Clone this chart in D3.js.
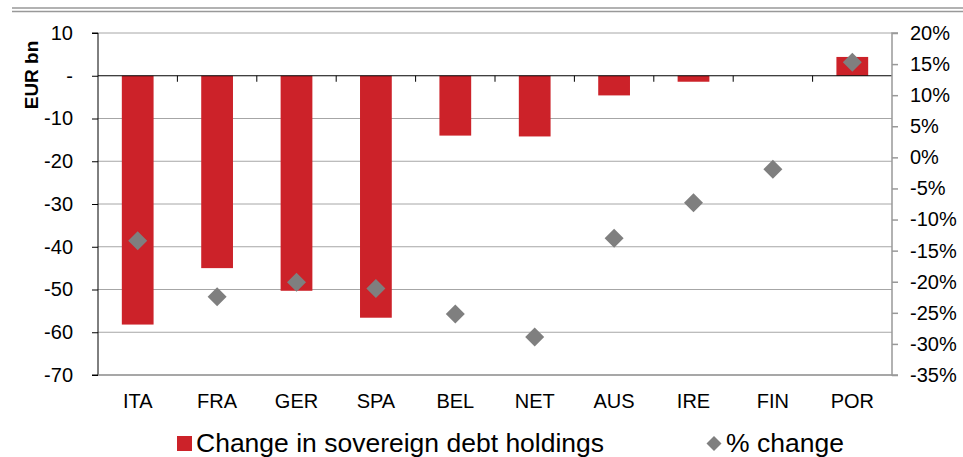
<!DOCTYPE html>
<html><head><meta charset="utf-8">
<script src="https://cdn.jsdelivr.net/npm/d3@7/dist/d3.min.js"></script>
<style>body{margin:0;background:#fff}svg{display:block;font-family:"Liberation Sans",Arial,sans-serif}</style>
</head><body><svg id="c" width="963" height="457"></svg>
<script>
const categories = ["ITA","FRA","GER","SPA","BEL","NET","AUS","IRE","FIN","POR"];
const debtChange = [-58.2, -45.0, -50.3, -56.6, -14.0, -14.2, -4.6, -1.4, 0, 4.4];
const pctChange = [-13.4, -22.4, -20.1, -21.1, -25.2, -28.9, -13.0, -7.3, -1.9, 15.3];
const leftTicks = [10, 0, -10, -20, -30, -40, -50, -60, -70];
const rightTicks = [20, 15, 10, 5, 0, -5, -10, -15, -20, -25, -30, -35];

const FONT = "Liberation Sans, Arial, sans-serif";
const svg = d3.select("#c");
const L = 98, R = 892, T = 33, B = 375;
const x = d3.scaleBand().domain(categories).range([L, R]).paddingInner(0.6).paddingOuter(0.3);
const xb = d3.scaleBand().domain(categories).range([L, R]);
const y = d3.scaleLinear().domain([-70, 10]).range([B, T]);
const y2 = d3.scaleLinear().domain([-35, 20]).range([B, T]);

// top double line
svg.append("line").attr("x1", 12).attr("x2", 963).attr("y1", 8).attr("y2", 8).attr("stroke", "#999").attr("stroke-width", 1.5);
svg.append("line").attr("x1", 12).attr("x2", 963).attr("y1", 11.5).attr("y2", 11.5).attr("stroke", "#999").attr("stroke-width", 1.5);

// gridlines
svg.append("g").selectAll("line").data(leftTicks.filter(d => d !== 0)).join("line")
  .attr("x1", L).attr("x2", R).attr("y1", d => y(d)).attr("y2", d => y(d))
  .attr("stroke", "#a6a6a6").attr("stroke-width", 1);

// bars
svg.append("g").selectAll("rect").data(categories).join("rect")
  .attr("x", d => x(d)).attr("width", x.bandwidth())
  .attr("y", (d, i) => y(Math.max(0, debtChange[i])))
  .attr("height", (d, i) => Math.abs(y(debtChange[i]) - y(0)))
  .attr("fill", "#cc2229");

// zero axis with ticks
const zero = svg.append("g");
zero.append("line").attr("x1", L).attr("x2", R).attr("y1", y(0)).attr("y2", y(0)).attr("stroke", "#000").attr("stroke-width", 1);
zero.selectAll("line.t").data(categories.slice(1)).join("line").attr("class", "t")
  .attr("x1", d => xb(d)).attr("x2", d => xb(d)).attr("y1", y(0)).attr("y2", y(0) + 6)
  .attr("stroke", "#000");

// left axis
const la = svg.append("g").attr("transform", `translate(${L},0)`)
  .call(d3.axisLeft(y).tickValues(leftTicks).tickSize(6).tickPadding(19).tickFormat(d => d === 0 ? "-" : d));
la.select(".domain").attr("stroke", "#000").attr("d", `M-6,${T}H0V${B}H-6`);
la.selectAll(".tick line").attr("stroke", "#000");
la.selectAll("text").attr("font-size", 20).attr("fill", "#000").attr("font-family", FONT);

// right axis
const ra = svg.append("g").attr("transform", `translate(${R},0)`)
  .call(d3.axisRight(y2).tickValues(rightTicks).tickSize(6).tickPadding(12).tickFormat(d => d + "%"));
ra.select(".domain").attr("stroke", "#999").attr("stroke-width", 1.5).attr("d", `M6,${T}H0V${B}H6`);
ra.selectAll(".tick line").attr("stroke", "#999").attr("stroke-width", 1.5);
ra.selectAll("text").attr("font-size", 20).attr("fill", "#000").attr("font-family", FONT);

// bottom line
svg.append("line").attr("x1", L).attr("x2", R).attr("y1", B).attr("y2", B).attr("stroke", "#999").attr("stroke-width", 1.5);

// category labels
svg.append("g").selectAll("text").data(categories).join("text")
  .attr("x", d => xb(d) + xb.bandwidth() / 2).attr("y", 408)
  .attr("text-anchor", "middle").attr("font-size", 20).attr("fill", "#000").text(d => d);

// diamonds
const s = 9.5;
svg.append("g").selectAll("path").data(categories).join("path")
  .attr("d", (d, i) => {
    const cx = xb(d) + xb.bandwidth() / 2, cy = y2(pctChange[i]);
    return `M${cx},${cy - s}L${cx + s},${cy}L${cx},${cy + s}L${cx - s},${cy}Z`;
  })
  .attr("fill", "#7f7f7f");

// y label
svg.append("text").attr("transform", `translate(38,75) rotate(-90)`).attr("text-anchor", "middle")
  .attr("font-size", 19).attr("font-weight", "bold").attr("fill", "#000").text("EUR bn");

// legend
svg.append("rect").attr("x", 177).attr("y", 436).attr("width", 15).attr("height", 15).attr("fill", "#cc2229");
svg.append("text").attr("x", 196).attr("y", 452).attr("font-size", 26.5).attr("fill", "#000").text("Change in sovereign debt holdings");
svg.append("path").attr("d", "M714,436L721.5,443.5L714,451L706.5,443.5Z").attr("fill", "#7f7f7f");
svg.append("text").attr("x", 726).attr("y", 452).attr("font-size", 26.5).attr("fill", "#000").text("% change");
</script></body></html>
